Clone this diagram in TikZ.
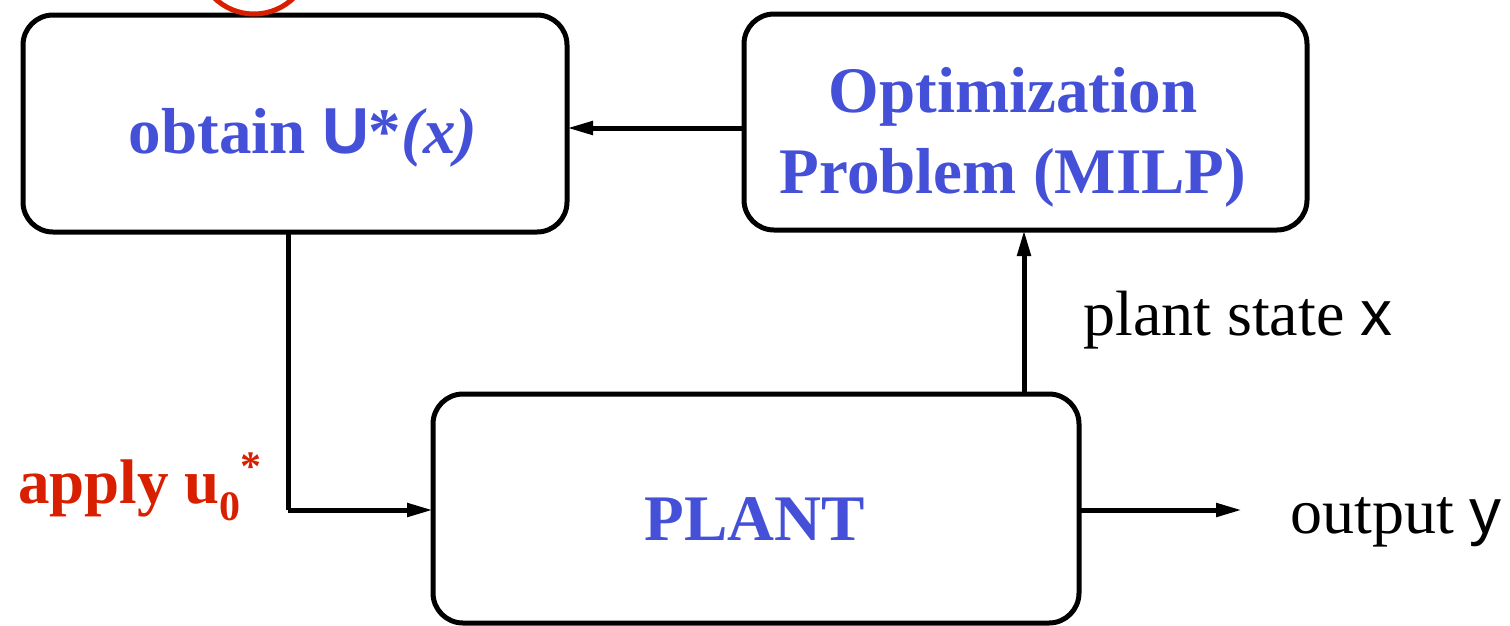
\documentclass[tikz,border=0pt]{standalone}
\usepackage{fontspec}
\setmainfont{Liberation Serif}
\newfontfamily\hv{Liberation Sans}
\usetikzlibrary{arrows.meta}
\definecolor{tblue}{RGB}{68,80,216}
\definecolor{tred}{RGB}{216,32,0}
\tikzset{
  blk/.style={draw=black, line width=5pt, rounded corners=30pt, inner sep=0pt, outer sep=0pt},
  conn/.style={line width=5pt, -{Triangle[length=26pt,width=13pt]}},
  wire/.style={line width=5pt},
  btxt/.style={text=tblue, font=\fontsize{65}{81}\selectfont\bfseries, inner sep=0pt, anchor=base},
  ktxt/.style={text=black, font=\fontsize{64}{70}\selectfont, inner sep=0pt, anchor=base west},
}
\begin{document}
\begin{tikzpicture}[x=1pt,y=-1pt]
\useasboundingbox (0,0) rectangle (1510,625);
\clip (0,0) rectangle (1510,625);
% boxes
\node[blk, minimum width=544pt, minimum height=217pt] (obt) at (295,123.5) {};
\node[blk, minimum width=563pt, minimum height=216pt] (opt) at (1025.5,122) {};
\node[blk, minimum width=646pt, minimum height=229pt] (plant) at (756,508.5) {};
% red circle (partly out of frame)
\draw[tred, line width=5pt] (254,-43) circle (57pt);
% texts
\node[btxt] (tobt) at (303,153) {obtain {\hv U}*\textit{(x)}};
\node[btxt] (topt1) at (1013,112) {Optimization};
\node[btxt] (topt2) at (1013,193) {Problem (MILP)};
\node[btxt] (tplant) at (755,540) {PLANT};
\node[ktxt] (tstate) at (1083,335) {plant state {\hv x}};
\node[ktxt] (tout) at (1290,533) {output {\hv y}};
\node[text=tred, font=\fontsize{63}{70}\selectfont\bfseries, inner sep=0pt, anchor=base west] (tapply) at (18,503)
  {apply u{\fontsize{42}{42}\selectfont\raisebox{-17pt}{0}\raisebox{23pt}{*}}};
% connectors
\coordinate (c1) at (288,510);
\draw[wire] (288,232) -- (c1);
\draw[conn] (c1) -- (plant.west |- c1);
\draw[conn] (opt.west |- 0,128) -- (obt.east |- 0,128);
\draw[conn] (plant.north -| 1024,0) -- (opt.south -| 1024,0);
\coordinate (oend) at (1242,510);
\draw[conn] (plant.east |- oend) -- (oend);
\end{tikzpicture}
\end{document}
